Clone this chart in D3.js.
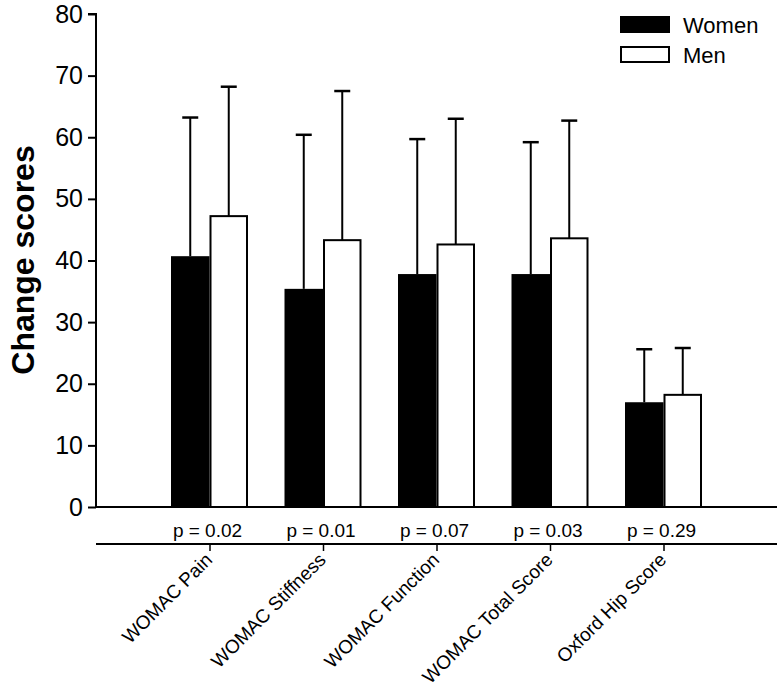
<!DOCTYPE html>
<html><head><meta charset="utf-8">
<script src="https://cdn.jsdelivr.net/npm/d3@7"></script>
<style>body{margin:0;background:#fff}svg{display:block}text{font-family:"Liberation Sans",Arial,sans-serif}</style>
</head><body><svg id="c" width="779" height="698"></svg>
<script>
const categories = ["WOMAC Pain","WOMAC Stiffness","WOMAC Function","WOMAC Total Score","Oxford Hip Score"];
const series = ["Women","Men"];
const womenMean = [40.7, 35.4, 37.8, 37.8, 17.0];
const womenSD   = [22.5, 25.0, 21.9, 21.4, 8.6];
const menMean   = [47.2, 43.3, 42.6, 43.6, 18.2];
const menSD     = [21.0, 24.2, 20.4, 19.1, 7.6];
const pValues   = ["p = 0.02","p = 0.01","p = 0.07","p = 0.03","p = 0.29"];
const yTicks    = [0,10,20,30,40,50,60,70,80];

(function(){
const svg = d3.select("#c");
const mL = 96, mR = 777, mT = 14, mB = 507;
const x = d3.scalePoint().domain(categories).range([mL, mR]).padding(1);
const y = d3.scaleLinear().domain([0, 80]).range([mB, mT]);
const bw = 38.5;

// y axis
const ya = svg.append("g").attr("transform", `translate(${mL},0)`)
  .call(d3.axisLeft(y).tickValues(yTicks).tickSize(8).tickPadding(5));
ya.select(".domain").attr("stroke-width", 2).attr("d", `M-8,${mT}H0V${mB}`);
ya.selectAll(".tick line").attr("stroke-width", 2);
ya.selectAll(".tick text").attr("font-size", 25).attr("font-family", "Liberation Sans, Arial").attr("fill", "#000");

// baseline
svg.append("line").attr("x1", mL).attr("x2", mR).attr("y1", mB).attr("y2", mB)
  .attr("stroke", "#000").attr("stroke-width", 2);

// bars
const data = [];
categories.forEach((c, i) => {
  data.push({c, s: "Women", m: womenMean[i], sd: womenSD[i], off: -bw});
  data.push({c, s: "Men", m: menMean[i], sd: menSD[i], off: 0});
});
const g = svg.append("g");
g.selectAll(".err").data(data).join("line")
  .attr("x1", d => x(d.c) + d.off + bw/2).attr("x2", d => x(d.c) + d.off + bw/2)
  .attr("y1", d => y(d.m)).attr("y2", d => y(d.m + d.sd))
  .attr("stroke", "#000").attr("stroke-width", 2);
g.selectAll(".cap").data(data).join("line")
  .attr("x1", d => x(d.c) + d.off + bw/2 - 8).attr("x2", d => x(d.c) + d.off + bw/2 + 8)
  .attr("y1", d => y(d.m + d.sd)).attr("y2", d => y(d.m + d.sd))
  .attr("stroke", "#000").attr("stroke-width", 2.5);
g.selectAll(".bar").data(data).join("rect")
  .attr("x", d => x(d.c) + d.off + (d.s === "Men" ? 1 : 0))
  .attr("width", d => d.s === "Men" ? bw - 2 : bw)
  .attr("y", d => y(d.m))
  .attr("height", d => mB - y(d.m))
  .attr("fill", d => d.s === "Women" ? "#000" : "#fff")
  .attr("stroke", "#000").attr("stroke-width", d => d.s === "Men" ? 2 : 0);

// p values
svg.append("g").selectAll("text").data(categories).join("text")
  .attr("x", d => x(d) - 2).attr("y", 537).attr("text-anchor", "middle")
  .attr("font-size", 19).text((d, i) => pValues[i]);

// second axis
const xa = svg.append("g").attr("transform", "translate(0,544)")
  .call(d3.axisBottom(x).tickSize(7).tickFormat(""));
xa.select(".domain").attr("stroke-width", 2).attr("d", `M${mL},0H${mR}`);
xa.selectAll(".tick line").attr("stroke-width", 1.5);
svg.append("g").selectAll("text").data(categories).join("text")
  .attr("transform", d => `translate(${x(d) + 4},${561}) rotate(-45)`)
  .attr("text-anchor", "end").attr("font-size", 19).text(d => d);

// y title
svg.append("text").attr("transform", "translate(34,260) rotate(-90)")
  .attr("text-anchor", "middle").attr("font-size", 32).attr("font-weight", "bold").text("Change scores");

// legend
const lg = svg.append("g");
lg.selectAll("rect").data(series).join("rect")
  .attr("x", 621).attr("y", (d, i) => 17 + i * 30).attr("width", 48).attr("height", 15)
  .attr("fill", (d, i) => i === 0 ? "#000" : "#fff").attr("stroke", "#000").attr("stroke-width", 2);
lg.selectAll("text").data(series).join("text")
  .attr("x", 683).attr("y", (d, i) => 33 + i * 30).attr("font-size", 22).text(d => d);
})();
</script></body></html>
